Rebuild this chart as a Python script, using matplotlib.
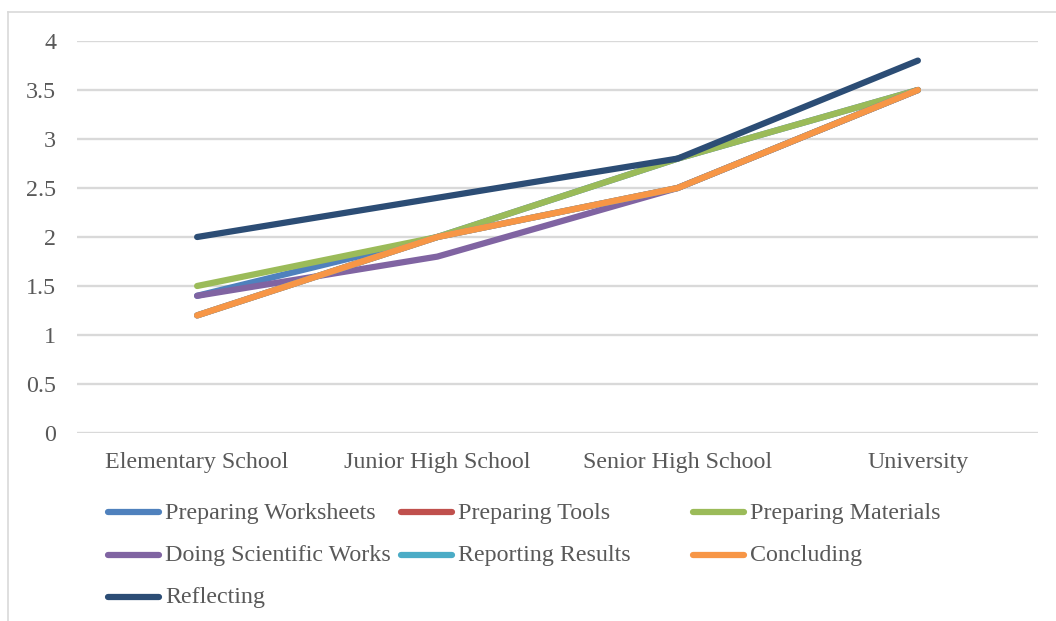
import matplotlib.pyplot as plt
from matplotlib.lines import Line2D

plt.rcParams['font.family'] = ['Liberation Serif', 'DejaVu Serif']

levels = ["Elementary School", "Junior High School", "Senior High School", "University"]
series_names = ["Preparing Worksheets", "Preparing Tools", "Preparing Materials",
                "Doing Scientific Works", "Reporting Results", "Concluding", "Reflecting"]
worksheets = [1.4, 2.0, 2.8, 3.5]
tools = [1.2, 2.0, 2.5, 3.5]
materials = [1.5, 2.0, 2.8, 3.5]
scientific = [1.4, 1.8, 2.5, 3.5]
reporting = [1.2, 2.0, 2.5, 3.5]
concluding = [1.2, 2.0, 2.5, 3.5]
reflecting = [2.0, 2.4, 2.8, 3.8]
y_ticks = [0, 0.5, 1, 1.5, 2, 2.5, 3, 3.5, 4]

colors = ["#4F81BD", "#C0504D", "#9BBB59", "#8064A2", "#4BACC6", "#F79646", "#2C4D75"]
values = [worksheets, tools, materials, scientific, reporting, concluding, reflecting]

W, H = 1056, 621
FS = 17.3
fig = plt.figure(figsize=(W / 100, H / 100), dpi=100)
ax = fig.add_axes([77 / W, 1 - 433 / H, (1038 - 77) / W, (433 - 41) / H])

x = list(range(len(levels)))
for vals, c in zip(values, colors):
    ax.plot(x, vals, color=c, lw=4.5, solid_capstyle='round', solid_joinstyle='round', zorder=3)

ax.set_xlim(-0.5, len(levels) - 0.5)
ax.set_ylim(0, 4)
ax.set_yticks(y_ticks)
ax.set_yticklabels([f"{t:g}" for t in y_ticks])
ax.set_xticks(x)
ax.set_xticklabels(levels)
ax.tick_params(length=0, labelsize=FS, labelcolor="#595959")
ax.tick_params(axis='y', pad=15)
ax.tick_params(axis='x', pad=14)
ax.grid(axis='y', color="#D9D9D9", lw=1.7)
ax.set_axisbelow(True)
for s in ax.spines.values():
    s.set_visible(False)

# legend drawn by hand in an even 3-column grid
for i, (name, c) in enumerate(zip(series_names, colors)):
    row, col = divmod(i, 3)
    x0 = 108 + col * 292.5
    y0 = 512 + row * 42.5
    fig.add_artist(Line2D([x0 / W, (x0 + 51) / W], [1 - y0 / H, 1 - y0 / H], color=c,
                          lw=4.5, solid_capstyle='round', transform=fig.transFigure))
    fig.text((x0 + 57) / W, 1 - (y0 + 1) / H, name, fontsize=FS, color="#595959",
             va='center', ha='left')

# chart area border (top and left edges)
fig.add_artist(Line2D([8 / W, 1], [1 - 11.5 / H, 1 - 11.5 / H], color="#D9D9D9", lw=1.2,
                      transform=fig.transFigure))
fig.add_artist(Line2D([8 / W, 8 / W], [0, 1 - 11.5 / H], color="#D9D9D9", lw=1.2,
                      transform=fig.transFigure))

fig.savefig("out.png", dpi=100)
